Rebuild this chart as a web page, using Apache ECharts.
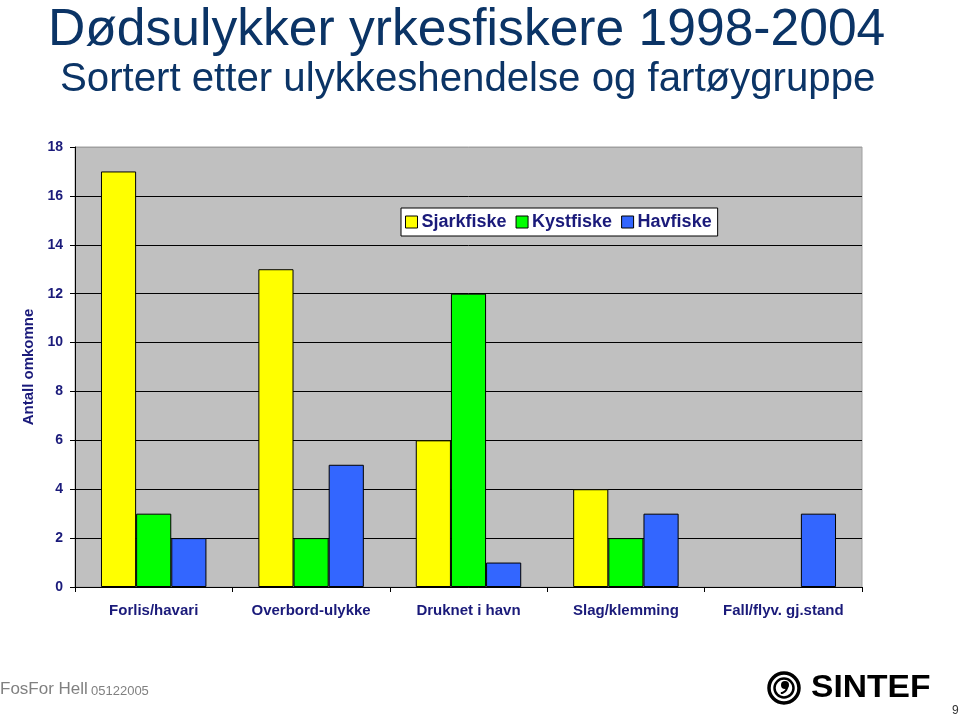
<!DOCTYPE html>
<html>
<head>
<meta charset="utf-8">
<style>html,body{margin:0;padding:0;background:#fff;}#c{width:960px;height:718px;}</style>
<script src="https://cdn.jsdelivr.net/npm/echarts@6/dist/echarts.min.js"></script>
</head>
<body>
<div id="c"></div>
<script>
const categories = ['Forlis/havari', 'Overbord-ulykke', 'Druknet i havn', 'Slag/klemming', 'Fall/flyv. gj.stand'];
const sjarkfiske = [17, 13, 6, 4, null];
const kystfiske = [3, 2, 12, 2, null];
const havfiske = [2, 5, 1, 3, 3];
const yTicks = [0, 2, 4, 6, 8, 10, 12, 14, 16, 18];

const navy = '#1a1a7a';
const chart = echarts.init(document.getElementById('c'));
const gridColors = yTicks.map((v, i) => i === yTicks.length - 1 ? '#a0a0a0' : '#000');
function bar(name, data, color) {
  return {
    name: name, type: 'bar', data: data, barGap: '0%', barCategoryGap: '33%',
    itemStyle: { color: color, borderColor: '#000', borderWidth: 1 }
  };
}
chart.setOption({
  animation: false,
  backgroundColor: '#fff',
  title: [
    { text: 'Dødsulykker yrkesfiskere 1998-2004', left: 43, top: 0,
      textStyle: { fontFamily: 'Liberation Sans', fontSize: 51.6, fontWeight: 'normal', color: '#0b3466' } },
    { text: 'Sortert etter ulykkeshendelse og fartøygruppe', left: 55, top: 55,
      textStyle: { fontFamily: 'Liberation Sans', fontSize: 40.2, fontWeight: 'normal', color: '#0b3466' } }
  ],
  legend: {
    left: 401, top: 208, orient: 'horizontal',
    backgroundColor: '#fff', borderColor: '#000', borderWidth: 1,
    padding: [5, 6, 5, 4], itemWidth: 12, itemHeight: 12, itemGap: 9,
    icon: 'rect',
    itemStyle: { borderColor: '#000', borderWidth: 1 },
    textStyle: { fontFamily: 'Liberation Sans', fontWeight: 'bold', fontSize: 18, color: navy, padding: [0, 0, 0, -1] },
    data: ['Sjarkfiske', 'Kystfiske', 'Havfiske']
  },
  grid: { left: 75, top: 147, right: 98, bottom: 131, show: true, backgroundColor: '#c0c0c0', borderColor: '#a0a0a0', borderWidth: 1 },
  xAxis: {
    type: 'category', data: categories,
    axisLine: { lineStyle: { color: '#000', width: 1 } },
    axisTick: { show: true, length: 5, lineStyle: { color: '#000' } },
    axisLabel: { margin: 16, fontFamily: 'Liberation Sans', fontWeight: 'bold', fontSize: 15, color: navy, interval: 0 }
  },
  yAxis: {
    type: 'value', min: 0, max: 18, interval: 2,
    name: 'Antall omkomne', nameLocation: 'middle', nameGap: 38,
    nameTextStyle: { fontFamily: 'Liberation Sans', fontWeight: 'bold', fontSize: 15, color: navy },
    axisLine: { show: true, lineStyle: { color: '#000', width: 1 } },
    axisTick: { show: true, length: 5, lineStyle: { color: '#000' } },
    axisLabel: { margin: 12, fontFamily: 'Liberation Sans', fontWeight: 'bold', fontSize: 14, color: navy,
      formatter: v => yTicks.indexOf(v) >= 0 ? String(v) : '' },
    splitLine: { show: true, lineStyle: { color: gridColors, width: 1 } }
  },
  series: [
    bar('Sjarkfiske', sjarkfiske, '#ffff00'),
    bar('Kystfiske', kystfiske, '#00ff00'),
    bar('Havfiske', havfiske, '#3366ff')
  ],
  graphic: [
    { type: 'text', left: 0, top: 681, style: { text: 'FosFor Hell', font: '17px "Liberation Sans Narrow", "Liberation Sans"', fill: '#808080' } },
    { type: 'text', left: 91, top: 685, style: { text: '05122005', font: '13px "Liberation Sans Narrow", "Liberation Sans"', fill: '#808080' } },
    { type: 'text', left: 952, top: 705, style: { text: '9', font: '12px "Liberation Sans"', fill: '#333' } },
    { type: 'circle', shape: { cx: 784, cy: 688, r: 15 }, style: { fill: 'none', stroke: '#000', lineWidth: 3.5 } },
    { type: 'circle', shape: { cx: 784, cy: 688, r: 9.5 }, style: { fill: 'none', stroke: '#000', lineWidth: 2.5 } },
    { type: 'circle', shape: { cx: 785, cy: 685, r: 4 }, style: { fill: '#000' } },
    { type: 'arc', shape: { cx: 781, cy: 687, r: 6, startAngle: -0.3, endAngle: 1.6 }, style: { fill: 'none', stroke: '#000', lineWidth: 2 } },
    { type: 'text', x: 811, y: 672, scaleX: 1.05, style: { text: 'SINTEF', font: '900 32px "Liberation Sans"', fill: '#000' } }
  ]
});
</script>
</body>
</html>
